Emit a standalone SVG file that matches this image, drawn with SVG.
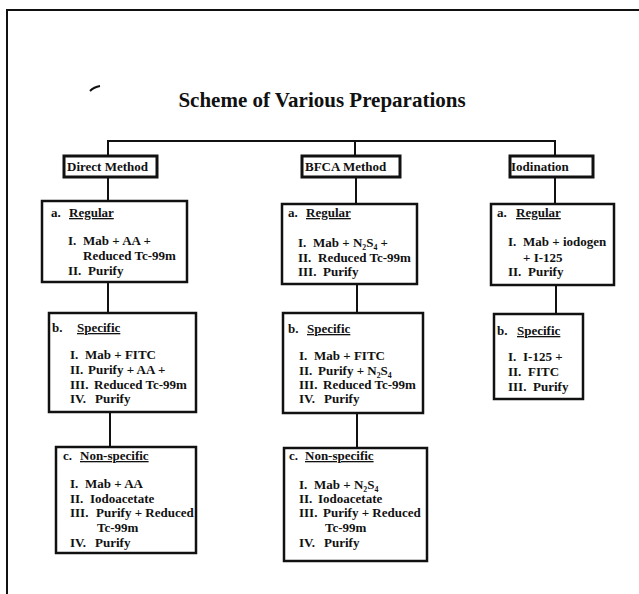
<svg xmlns="http://www.w3.org/2000/svg" width="639" height="594" viewBox="0 0 639 594">
<style>
text{font-family:"Liberation Serif","Times New Roman",serif;font-weight:bold;font-size:13px;fill:#111}
.title{font-size:21px}
.u{text-decoration:underline}
.hb{fill:#fff;stroke:#111;stroke-width:3}
.nb{fill:#fff;stroke:#111;stroke-width:2.5}
.c{stroke:#111;stroke-width:2;fill:none}
</style>
<rect width="639" height="594" fill="#fff"/>
<path d="M7,594 V10 H639" fill="none" stroke="#111" stroke-width="2"/>
<path d="M90,91 Q94,87 100,86" fill="none" stroke="#111" stroke-width="2"/>
<text class="title" x="322" y="107" text-anchor="middle">Scheme of Various Preparations</text>
<g id="connectors">
<path class="c" d="M108,156 V141 H555 V156 M355,141 V156"/>
<path class="c" d="M108,177 V201 M356,177 V204 M555,177 V204"/>
<path class="c" d="M108,282 V313 M110,412 V447"/>
<path class="c" d="M357,284 V313 M357,413 V448"/>
<path class="c" d="M556,285 V314"/>
</g>
<g id="direct-method">
<rect class="hb" x="64" y="156" width="93" height="21"/>
<text x="67" y="171">Direct Method</text>
</g>
<g id="bfca-method">
<rect class="hb" x="302" y="156" width="98" height="21"/>
<text x="305" y="171">BFCA Method</text>
</g>
<g id="iodination">
<rect class="hb" x="510" y="156" width="83" height="21"/>
<text x="511" y="171">Iodination</text>
</g>
<g id="direct-regular">
<rect class="nb" x="42" y="201" width="145" height="81"/>
<text x="51" y="217">a.</text><text class="u" x="69" y="217">Regular</text>
<text x="68" y="245">I.</text><text x="83" y="245">Mab + AA +</text>
<text x="83" y="260">Reduced Tc-99m</text>
<text x="68" y="275">II.</text><text x="88" y="275">Purify</text>
</g>
<g id="direct-specific">
<rect class="nb" x="49" y="313" width="147" height="99"/>
<text x="52" y="332">b.</text><text class="u" x="77" y="332">Specific</text>
<text x="70" y="359">I.</text><text x="85" y="359">Mab + FITC</text>
<text x="70" y="374">II.</text><text x="88" y="374">Purify + AA +</text>
<text x="70" y="389">III.</text><text x="94" y="389">Reduced Tc-99m</text>
<text x="70" y="403">IV.</text><text x="95" y="403">Purify</text>
</g>
<g id="direct-nonspecific">
<rect class="nb" x="56" y="447" width="140" height="106"/>
<text x="63" y="460">c.</text><text class="u" x="80" y="460">Non-specific</text>
<text x="70" y="488">I.</text><text x="85" y="488">Mab + AA</text>
<text x="70" y="503">II.</text><text x="90" y="503">Iodoacetate</text>
<text x="70" y="517">III.</text><text x="96" y="517">Purify + Reduced</text>
<text x="97" y="532">Tc-99m</text>
<text x="70" y="547">IV.</text><text x="95" y="547">Purify</text>
</g>
<g id="bfca-regular">
<rect class="nb" x="282" y="204" width="135" height="80"/>
<text x="288" y="217">a.</text><text class="u" x="306" y="217">Regular</text>
<text x="298" y="247">I.</text><text x="313" y="247">Mab + N₂S₄ +</text>
<text x="298" y="262">II.</text><text x="318" y="262">Reduced Tc-99m</text>
<text x="298" y="276">III.</text><text x="323" y="276">Purify</text>
</g>
<g id="bfca-specific">
<rect class="nb" x="283" y="313" width="140" height="100"/>
<text x="288" y="333">b.</text><text class="u" x="307" y="333">Specific</text>
<text x="299" y="360">I.</text><text x="314" y="360">Mab + FITC</text>
<text x="299" y="375">II.</text><text x="318" y="375">Purify + N₂S₄</text>
<text x="299" y="389">III.</text><text x="323" y="389">Reduced Tc-99m</text>
<text x="299" y="403">IV.</text><text x="324" y="403">Purify</text>
</g>
<g id="bfca-nonspecific">
<rect class="nb" x="284" y="448" width="143" height="113"/>
<text x="289" y="460">c.</text><text class="u" x="305" y="460">Non-specific</text>
<text x="299" y="489">I.</text><text x="314" y="489">Mab + N₂S₄</text>
<text x="299" y="503">II.</text><text x="318" y="503">Iodoacetate</text>
<text x="299" y="517">III.</text><text x="323" y="517">Purify + Reduced</text>
<text x="325" y="532">Tc-99m</text>
<text x="299" y="547">IV.</text><text x="324" y="547">Purify</text>
</g>
<g id="iod-regular">
<rect class="nb" x="491" y="204" width="123" height="81"/>
<text x="497" y="217">a.</text><text class="u" x="516" y="217">Regular</text>
<text x="508" y="246">I.</text><text x="523" y="246">Mab + iodogen</text>
<text x="523" y="262">+ I-125</text>
<text x="508" y="276">II.</text><text x="528" y="276">Purify</text>
</g>
<g id="iod-specific">
<rect class="nb" x="494" y="314" width="89" height="85"/>
<text x="497" y="335">b.</text><text class="u" x="517" y="335">Specific</text>
<text x="508" y="361">I.</text><text x="523" y="361">I-125 +</text>
<text x="508" y="376">II.</text><text x="528" y="376">FITC</text>
<text x="508" y="391">III.</text><text x="533" y="391">Purify</text>
</g>
</svg>
